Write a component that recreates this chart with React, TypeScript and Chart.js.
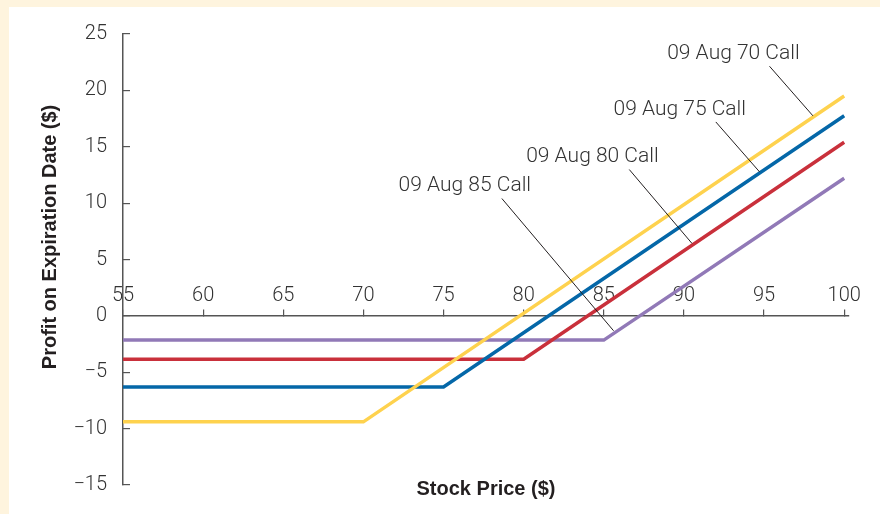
import React, { useEffect, useRef } from 'react';
import { Chart, registerables } from 'chart.js';

Chart.register(...registerables);

// ---- data ----
const seriesNames = ['09 Aug 70 Call', '09 Aug 75 Call', '09 Aug 80 Call', '09 Aug 85 Call'];
const seriesColors = ['#fed24e', '#0467a8', '#c9303b', '#9179b7'];

const call70Price = [55, 70, 100];
const call70Profit = [-9.4, -9.4, 19.5];
const call75Price = [55, 75, 100];
const call75Profit = [-6.3, -6.3, 17.75];
const call80Price = [55, 80, 100];
const call80Profit = [-3.85, -3.85, 15.4];
const call85Price = [55, 85, 100];
const call85Profit = [-2.15, -2.15, 12.2];

const xTickMin = 55;
const xTickMax = 100;
const yTickMin = -15;
const yTickMax = 25;
const tickStep = 5;

// annotation labels (data coordinates)
const labelX = [93.09, 89.74, 84.29, 76.33];
const labelY = [22.76, 17.86, 13.66, 11.09];
const leaderFromX = [95.34, 91.99, 86.59, 78.64];
const leaderFromY = [22.14, 17.2, 12.98, 10.41];
const leaderToX = [98.05, 94.72, 90.5, 85.61];
const leaderToY = [17.74, 12.77, 6.43, -1.32];

const xTitle = 'Stock Price ($)';
const yTitle = 'Profit on Expiration Date ($)';

const priceArrays = [call70Price, call75Price, call80Price, call85Price];
const profitArrays = [call70Profit, call75Profit, call80Profit, call85Profit];

const TEXT_FONT = '300 21px Roboto, "Liberation Sans", Arial, sans-serif';
const TITLE_FONT = 'bold 20px "Liberation Sans", Arial, Helvetica, sans-serif';

const annotationPlugin = {
  id: 'callAnnotations',
  afterDatasetsDraw(chart: any) {
    const { ctx, chartArea } = chart;
    const xs = chart.scales.x;
    const ys = chart.scales.y;
    ctx.save();
    // leader lines
    ctx.strokeStyle = '#231f20';
    ctx.lineWidth = 1;
    for (let i = 0; i < seriesNames.length; i++) {
      ctx.beginPath();
      ctx.moveTo(xs.getPixelForValue(leaderFromX[i]), ys.getPixelForValue(leaderFromY[i]));
      ctx.lineTo(xs.getPixelForValue(leaderToX[i]), ys.getPixelForValue(leaderToY[i]));
      ctx.stroke();
    }
    // labels
    ctx.fillStyle = '#333333';
    ctx.font = TEXT_FONT;
    ctx.textAlign = 'center';
    ctx.textBaseline = 'alphabetic';
    for (let i = 0; i < seriesNames.length; i++) {
      ctx.fillText(seriesNames[i], xs.getPixelForValue(labelX[i]), ys.getPixelForValue(labelY[i]));
    }
    // axis titles
    ctx.fillStyle = '#231f20';
    ctx.font = TITLE_FONT;
    ctx.textAlign = 'center';
    ctx.textBaseline = 'alphabetic';
    ctx.fillText(xTitle, (chartArea.left + chartArea.right) / 2, chartArea.bottom + 10);
    ctx.translate(chartArea.left - 67, chartArea.top + (chartArea.bottom - chartArea.top) * 0.45);
    ctx.rotate(-Math.PI / 2);
    ctx.fillText(yTitle, 0, 0);
    ctx.restore();
  },
};

export default function App() {
  const ref = useRef<HTMLCanvasElement>(null);

  useEffect(() => {
    if (!ref.current) return;
    const datasets = seriesNames.map((name, i) => ({
      label: name,
      data: priceArrays[i].map((p, j) => ({ x: p, y: profitArrays[i][j] })),
      borderColor: seriesColors[i],
      backgroundColor: seriesColors[i],
      borderWidth: 3.5,
      pointRadius: 0,
      tension: 0,
      fill: false,
    }));

    const tickFont = { family: 'Roboto, "Liberation Sans", Arial, sans-serif', size: 20, weight: '300' as any };

    const chart = new Chart(ref.current, {
      type: 'line',
      data: { datasets },
      plugins: [annotationPlugin],
      options: {
        animation: false,
        responsive: true,
        maintainAspectRatio: false,
        layout: { padding: { top: 27, right: 31, bottom: 29, left: 0 } },
        plugins: {
          legend: { display: false },
          tooltip: { enabled: false },
          title: { display: false },
        },
        scales: {
          x: {
            type: 'linear',
            min: xTickMin,
            max: xTickMax + 0.3,
            position: { y: 0 } as any,
            ticks: {
              stepSize: tickStep,
              includeBounds: false,
              autoSkip: false,
              maxRotation: 0,
              padding: -25,
              color: '#333333',
              font: tickFont,
            },
            grid: {
              drawOnChartArea: false,
              drawTicks: true,
              tickLength: -7,
              color: '#555555',
              lineWidth: 1.2,
            },
            border: { display: true, color: '#555555', width: 1.5 },
          },
          y: {
            type: 'linear',
            min: yTickMin,
            max: yTickMax,
            afterFit: (s: any) => {
              s.width = 114;
              s.paddingTop = 0;
              s.paddingBottom = 0;
            },
            ticks: {
              stepSize: tickStep,
              padding: 23,
              color: '#333333',
              font: tickFont,
              callback: (v: any) => (Number(v) < 0 ? '\u2212' + Math.abs(Number(v)) : String(v)),
            },
            grid: {
              drawOnChartArea: false,
              drawTicks: true,
              tickLength: -7,
              color: '#555555',
              lineWidth: 1.2,
            },
            border: { display: true, color: '#555555', width: 1.5 },
          },
        },
      },
    });
    return () => chart.destroy();
  }, []);

  return (
    <div
      style={{
        position: 'absolute',
        left: 0,
        top: 0,
        width: 880,
        height: 514,
        background: '#fef4de',
        overflow: 'hidden',
      }}
    >
      <div
        style={{
          position: 'absolute',
          left: 9,
          top: 7,
          width: 871,
          height: 507,
          background: '#ffffff',
        }}
      >
        <canvas ref={ref} />
      </div>
    </div>
  );
}
